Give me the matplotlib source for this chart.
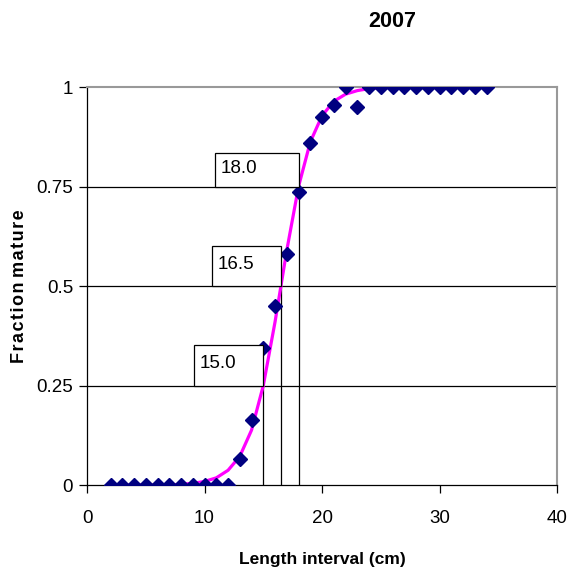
import numpy as np
import matplotlib
matplotlib.use("Agg")
import matplotlib.pyplot as plt

plt.rcParams['font.family'] = ['Liberation Sans', 'DejaVu Sans']

# observed fraction mature per length interval
length = list(range(2, 35))
observed = [0, 0, 0, 0, 0, 0, 0, 0, 0, 0, 0,
            0.065, 0.163, 0.345, 0.45, 0.58, 0.735, 0.86, 0.925, 0.955,
            1.0, 0.95, 1, 1, 1, 1, 1, 1, 1, 1, 1, 1, 1]

# fitted ogive read at each length
fitted = [0, 0, 0, 0, 0, 0, 0.002, 0.004, 0.009, 0.018, 0.037,
          0.072, 0.138, 0.25, 0.41, 0.59, 0.75, 0.862, 0.928, 0.964,
          0.982, 0.991, 0.996, 0.998, 0.999, 1, 1, 1, 1, 1, 1, 1, 1]

# L25, L50, L75 markers
ref_len = [15.0, 16.5, 18.0]
ref_frac = [0.25, 0.5, 0.75]
ref_text = ["15.0", "16.5", "18.0"]
box_w = [5.9, 5.9, 7.1]
box_h = [0.102, 0.1, 0.085]

fig = plt.figure(figsize=(5.69, 5.71), dpi=100)
ax = fig.add_axes([0.153, 0.1506, 0.826, 0.697])

ax.set_xlim(0, 40)
ax.set_ylim(0, 1)

for y in [0.25, 0.5, 0.75]:
    ax.axhline(y, color='black', lw=0.9, zorder=1)

ax.plot(length, fitted, color='#ff00ff', lw=2.3, zorder=3)
ax.plot(length, observed, linestyle='none', marker='D', markersize=7,
        color='#000080', zorder=4)

for xl, yf, t, w, h in zip(ref_len, ref_frac, ref_text, box_w, box_h):
    ax.plot([xl, xl], [0, yf], color='black', lw=0.9, zorder=2)
    ax.add_patch(plt.Rectangle((xl - w, yf), w, h, facecolor='white',
                               edgecolor='black', lw=0.9, zorder=5))
    ax.text(xl - w + 0.5, yf + h / 2 + 0.004, t, fontsize=13.5, va='center',
            ha='left', zorder=6)

for s in ['top', 'right']:
    ax.spines[s].set_color('#999999')
    ax.spines[s].set_linewidth(1.5)
for s in ['left', 'bottom']:
    ax.spines[s].set_color('black')
    ax.spines[s].set_linewidth(0.9)

ax.set_xticks([0, 10, 20, 30, 40])
ax.set_yticks([0, 0.25, 0.5, 0.75, 1])
ax.set_yticklabels(['0', '0.25', '0.5', '0.75', '1'])
ax.tick_params(direction='out', length=6, width=0.9, labelsize=13.5)
ax.tick_params(axis='x', pad=12)
ax.tick_params(axis='y', pad=4)

ax.set_xlabel('Length interval (cm)', fontsize=12.5, fontweight='bold', labelpad=18)
ax.set_ylabel('F r a c t i o n   m a t u r e'.replace(' ', '\u200a'),
              fontsize=13, fontweight='bold', labelpad=6)

fig.text(0.689, 0.962, '2007', fontsize=15.5, fontweight='bold',
         ha='center', va='center')

fig.savefig('out.png', dpi=100)
